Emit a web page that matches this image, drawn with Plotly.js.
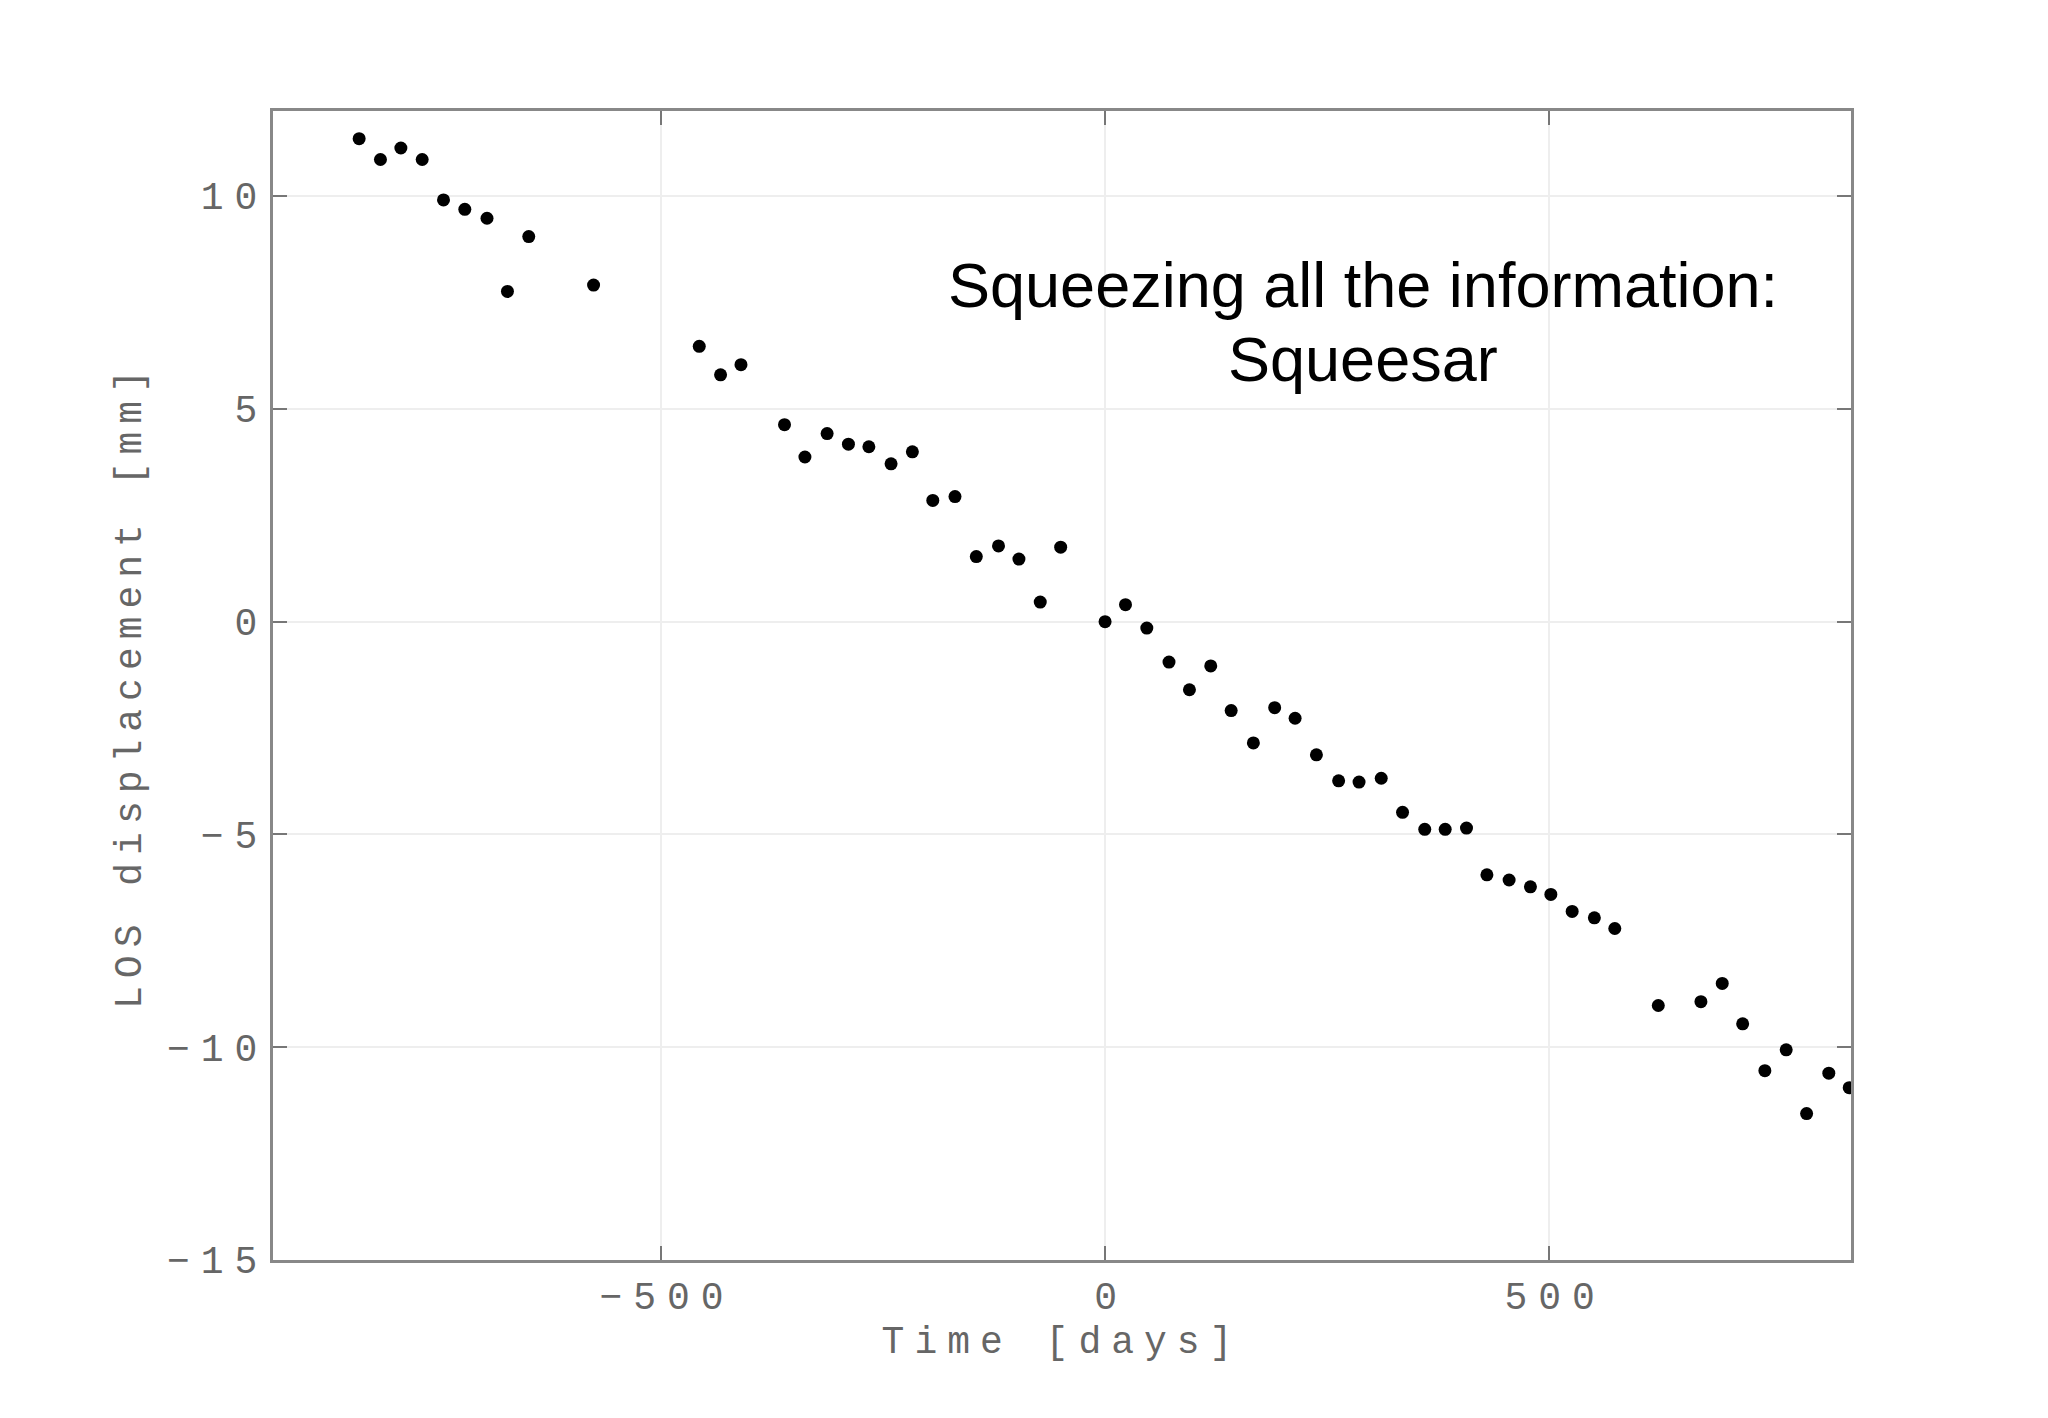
<!DOCTYPE html>
<html>
<head>
<meta charset="utf-8">
<script src="https://cdn.plot.ly/plotly-3.0.1.min.js"></script>
<style>
html, body { margin: 0; padding: 0; background: #fff; }
#chart { width: 2048px; height: 1418px; }
.xtick text, .ytick text { letter-spacing: 11px; }
text.xtitle { letter-spacing: 10px; }
text.ytitle { letter-spacing: 8px; }
</style>
</head>
<body>
<div id="chart"></div>
<script>
const timeDays = [-840, -816, -793, -769, -745, -721, -696, -673, -649, -576,
  -457, -433, -410, -361, -338, -313, -289, -266, -241, -217,
  -194, -169, -145, -120, -97, -73, -50, 0, 23, 47,
  72, 95, 119, 142, 167, 191, 214, 238, 263, 286,
  311, 335, 360, 383, 407, 430, 455, 479, 502, 526,
  551, 574, 623, 671, 695, 718, 743, 767, 790, 815, 838];
const losDisplacement = [11.35, 10.86, 11.13, 10.86, 9.91, 9.69, 9.48, 7.76, 9.05, 7.91,
  6.47, 5.80, 6.04, 4.63, 3.87, 4.42, 4.17, 4.11, 3.71, 3.99,
  2.85, 2.94, 1.53, 1.78, 1.47, 0.46, 1.75, 0.00, 0.40, -0.15,
  -0.95, -1.60, -1.04, -2.09, -2.85, -2.02, -2.27, -3.13, -3.74, -3.77,
  -3.68, -4.48, -4.88, -4.88, -4.85, -5.95, -6.07, -6.23, -6.41, -6.81,
  -6.96, -7.21, -9.02, -8.93, -8.50, -9.45, -10.55, -10.06, -11.56, -10.61, -10.95];
const xTickVals = [-500, 0, 500];
const xTickText = ['\u2212500', '0', '500'];
const yTickVals = [-15, -10, -5, 0, 5, 10];
const yTickText = ['\u221215', '\u221210', '\u22125', '0', '5', '10'];
const annotationLines = ['Squeezing all the information:', 'Squeesar'];
const annotationY = [7.91, 6.17];
const annotationX = 291;

const axisFont = { family: 'Liberation Mono, Courier New, monospace', size: 38, color: '#666666' };

const trace = {
  x: timeDays,
  y: losDisplacement,
  type: 'scatter',
  mode: 'markers',
  marker: { color: '#000000', size: 13 },
  hoverinfo: 'x+y'
};

const layout = {
  width: 2048,
  height: 1418,
  paper_bgcolor: '#ffffff',
  plot_bgcolor: '#ffffff',
  showlegend: false,
  margin: { l: 273, r: 197, t: 111, b: 158 },
  xaxis: {
    range: [-937, 840],
    tickvals: xTickVals,
    ticktext: xTickText,
    ticks: 'inside',
    ticklen: 14,
    tickcolor: '#777777',
    tickwidth: 2,
    ticklabelshift: 6,
    showline: true,
    linecolor: '#888888',
    linewidth: 3,
    mirror: 'ticks',
    showgrid: true,
    gridcolor: '#eeeeee',
    gridwidth: 2,
    zeroline: false,
    tickfont: axisFont,
    title: { text: 'Time [days]', font: axisFont, standoff: 8 }
  },
  yaxis: {
    range: [-15, 12],
    tickvals: yTickVals,
    ticktext: yTickText,
    ticks: 'inside',
    ticklen: 14,
    tickcolor: '#777777',
    tickwidth: 2,
    ticklabelstandoff: -6,
    showline: true,
    linecolor: '#888888',
    linewidth: 3,
    mirror: 'ticks',
    showgrid: true,
    gridcolor: '#eeeeee',
    gridwidth: 2,
    zeroline: false,
    tickfont: axisFont,
    title: { text: 'LOS displacement [mm]', font: axisFont, standoff: 14 }
  },
  annotations: annotationLines.map((t, i) => ({
    x: annotationX,
    y: annotationY[i],
    xref: 'x',
    yref: 'y',
    text: t,
    showarrow: false,
    align: 'center',
    font: { family: 'Liberation Sans, Arial, sans-serif', size: 63, color: '#000000' }
  }))
};

Plotly.newPlot('chart', [trace], layout, { displayModeBar: false, staticPlot: true });
</script>
</body>
</html>
